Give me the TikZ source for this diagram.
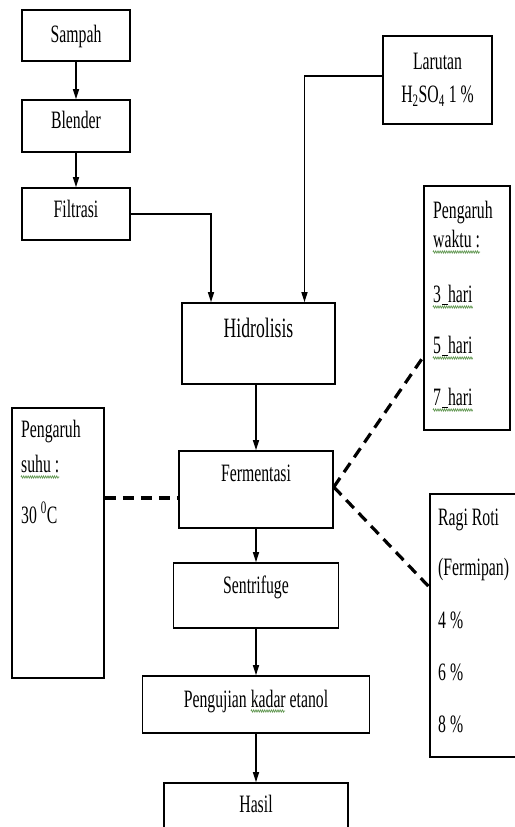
\documentclass[tikz,border=0pt]{standalone}
\usepackage{fontspec}
\setmainfont{Liberation Serif}[FakeStretch=0.63]
\usetikzlibrary{arrows.meta,decorations.pathmorphing}
\definecolor{squiggreen}{RGB}{96,150,80}
\newcommand\spaceline{\kern1pt\rule[-2.5pt]{6pt}{0.8pt}}
\begin{document}
\begin{tikzpicture}[x=1pt,y=-1pt,
  every node/.style={font=\fontsize{25}{30}\selectfont,inner sep=0pt},
  box/.style={draw,line width=1.6pt},
  flow/.style={line width=1.3pt,-{Triangle[length=10pt,width=6pt]}},
  dashlink/.style={line width=3.2pt,dash pattern=on 11pt off 7pt},
  line/.style={anchor=base west},
  squig/.style={squiggreen,line width=0.7pt,decorate,decoration={zigzag,segment length=2.2pt,amplitude=1.1pt}}]
\useasboundingbox (0,0) rectangle (514,827);
\node[box,minimum width=108pt,text height=32pt,text depth=19pt] (sampah) at (76,35.5) {Sampah};
\node[box,minimum width=108pt,text height=28pt,text depth=24pt] (blender) at (76,126) {Blender};
\node[box,minimum width=108pt,text height=29pt,text depth=23pt] (filtrasi) at (76,214) {Filtrasi};
\node[box,minimum width=109pt,minimum height=88pt,align=center] (larutan) at (437.5,80) {Larutan\\[3pt]H\textsubscript{2}SO\textsubscript{4} 1 \%};
\node[box,minimum width=153pt,text height=34.6pt,text depth=46.4pt,font=\fontsize{28}{30}\selectfont] (hidro) at (258.5,343.5) {Hidrolisis};
\node[box,minimum width=154pt,text height=30pt,text depth=47pt] (ferm) at (256,489.5) {Fermentasi};
\node[box,minimum width=165pt,text height=30pt,text depth=35pt] (sentri) at (256,595.5) {Sentrifuge};
\node[box,minimum width=227pt,text height=31pt,text depth=26pt] (uji) at (256,704.5) {Pengujian kadar etanol};
\node[box,minimum width=184pt,text height=29pt,text depth=41pt] (hasil) at (256,818) {Hasil};
\node[box,minimum width=92pt,minimum height=270pt] (suhu) at (58,543) {};
\node[box,minimum width=86pt,minimum height=244pt] (waktu) at (467,308) {};
\node[box,minimum width=110pt,minimum height=263pt] (ragi) at (485,625.5) {};
\node[line] (suhu1) at (21,437) {Pengaruh};
\node[line] (suhu2) at (21,472) {suhu :};
\node[line] (suhu3) at (21,523) {30 \textsuperscript{0}C};
\node[line] (waktu1) at (433,218) {Pengaruh};
\node[line] (waktu2) at (433,247) {waktu :};
\node[line] (waktu3) at (433,302) {3\spaceline hari};
\node[line] (waktu4) at (433,353) {5\spaceline hari};
\node[line] (waktu5) at (433,405) {7\spaceline hari};
\node[line] (ragi1) at (438,525) {Ragi Roti};
\node[line] (ragi2) at (438,575) {(Fermipan)};
\node[line] (ragi3) at (438,628) {4 \%};
\node[line] (ragi4) at (438,680) {6 \%};
\node[line] (ragi5) at (438,732) {8 \%};
\draw[squig] ([yshift=-5pt]suhu2.base west) -- ([yshift=-5pt]suhu2.base east);
\draw[squig] ([yshift=-5pt]waktu2.base west) -- ([yshift=-5pt]waktu2.base east);
\draw[squig] ([yshift=-5pt]waktu3.base west) -- ([yshift=-5pt]waktu3.base east);
\draw[squig] ([yshift=-5pt]waktu4.base west) -- ([yshift=-5pt]waktu4.base east);
\draw[squig] ([yshift=-5pt]waktu5.base west) -- ([yshift=-5pt]waktu5.base east);
\draw[squig] ([xshift=-5pt,yshift=-4pt]uji.base) -- ([xshift=29pt,yshift=-4pt]uji.base);
\draw[flow] (sampah) -- (blender);
\draw[flow] (blender) -- (filtrasi);
\draw[flow] (filtrasi.east) -| ([xshift=-47.5pt]hidro.north);
\draw[flow] ([yshift=4pt]larutan.west) -| ([xshift=46pt]hidro.north);
\draw[flow] (hidro.south -| ferm.north) -- (ferm.north);
\draw[flow] (ferm) -- (sentri);
\draw[flow] (sentri) -- (uji);
\draw[flow] (uji) -- (hasil);
\draw[dashlink] ([yshift=-8.5pt]ferm.west -| suhu.east) -- ([yshift=-8.5pt]ferm.west);
\draw[dashlink] ([yshift=2.5pt]ferm.east) -- ([yshift=-49pt]waktu.west);
\draw[dashlink] ([yshift=2.5pt]ferm.east) -- ([yshift=38.5pt]ragi.west);
\end{tikzpicture}
\end{document}
